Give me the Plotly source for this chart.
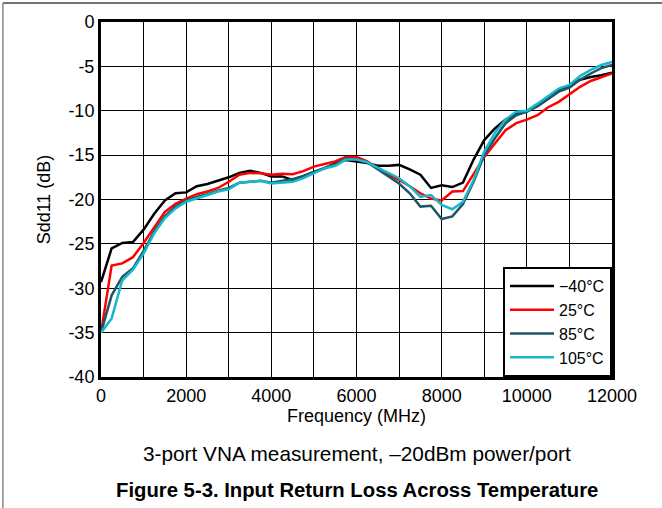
import plotly.graph_objects as go

# frequency points (MHz), 250 MHz step
freq = [i * 250 for i in range(49)]

sdd11_m40 = [-29.3, -25.5, -24.9, -24.8, -23.4, -21.6, -20.1, -19.3, -19.2, -18.5,
             -18.25, -17.9, -17.5, -17.0, -16.75, -17.0, -17.4, -17.4, -17.8, -17.4,
             -16.9, -16.5, -15.9, -15.55, -15.7, -15.9, -16.2, -16.2, -16.1, -16.6,
             -17.2, -18.7, -18.4, -18.6, -18.1, -15.5, -13.3, -12.0, -11.0, -10.4,
             -10.1, -9.35, -8.6, -7.7, -7.2, -6.5, -6.2, -6.0, -5.7]
sdd11_25 = [-35.0, -27.45, -27.2, -26.5, -24.9, -23.1, -21.4, -20.5, -19.9, -19.4,
            -19.1, -18.7, -18.0, -17.2, -17.0, -17.05, -17.2, -17.1, -17.15, -16.8,
            -16.3, -16.0, -15.7, -15.2, -15.2, -15.7, -16.5, -17.2, -17.8, -18.5,
            -19.3, -19.9, -20.1, -19.1, -19.05, -17.2, -15.2, -13.7, -12.2, -11.4,
            -11.0, -10.5, -9.6, -9.0, -8.2, -7.3, -6.65, -6.2, -5.8]
sdd11_85 = [-35.0, -30.8, -28.7, -27.75, -25.8, -23.6, -21.9, -20.8, -20.1, -19.7,
            -19.4, -19.0, -18.7, -18.1, -18.0, -17.9, -18.1, -17.9, -17.7, -17.35,
            -16.9, -16.5, -16.0, -15.4, -15.5, -15.8, -16.6, -17.4, -18.2, -19.3,
            -20.8, -20.7, -22.2, -21.9, -20.5, -18.0, -15.0, -13.1, -11.4, -10.5,
            -10.1, -9.5, -8.7, -7.85, -7.4, -6.5, -5.8, -5.2, -4.85]
sdd11_105 = [-35.0, -33.4, -29.1, -27.9, -26.1, -23.8, -22.1, -21.0, -20.25, -19.9,
             -19.5, -19.1, -18.85, -18.1, -18.0, -17.9, -18.2, -18.1, -18.0, -17.6,
             -17.05, -16.5, -16.2, -15.5, -15.5, -15.8, -16.4, -17.0, -17.6, -18.5,
             -19.7, -19.5, -20.6, -21.1, -20.25, -17.8, -14.6, -12.5, -11.0, -10.1,
             -10.0, -9.2, -8.4, -7.5, -7.1, -6.1, -5.4, -4.85, -4.5]

names = ["\u221240\u00b0C", "25\u00b0C", "85\u00b0C", "105\u00b0C"]
colors = ["#000000", "#ff0000", "#1d5766", "#17b8cc"]
series = [sdd11_m40, sdd11_25, sdd11_85, sdd11_105]

x_ticks = [0, 2000, 4000, 6000, 8000, 10000, 12000]
y_ticks = [0, -5, -10, -15, -20, -25, -30, -35, -40]

FONT = "Liberation Sans, Arial, sans-serif"

fig = go.Figure()
for nm, col, ys in zip(names, colors, series):
    fig.add_trace(go.Scatter(x=freq, y=ys, mode="lines", name=nm,
                             line=dict(color=col, width=2.5)))

fig.update_layout(
    width=662, height=508,
    margin=dict(l=101, r=50, t=22, b=131),
    paper_bgcolor="white", plot_bgcolor="white",
    font=dict(family=FONT, size=18, color="black"),
    showlegend=True,
    legend=dict(x=1, y=0, xanchor="right", yanchor="bottom",
                bgcolor="white", bordercolor="black", borderwidth=2,
                font=dict(size=16), tracegroupgap=0, itemwidth=44),
    xaxis=dict(range=[0, 12000], tickvals=x_ticks, ticktext=[str(v) for v in x_ticks],
               showgrid=True, gridcolor="black", gridwidth=1,
               showline=True, linecolor="black", linewidth=3, mirror=True,
               ticks="", zeroline=False, automargin=False,
               title=dict(text="Frequency (MHz)", font=dict(size=18), standoff=4),
               minor=dict(dtick=1000, showgrid=True, gridcolor="black", gridwidth=1)),
    yaxis=dict(range=[-40, 0], tickvals=y_ticks, ticktext=[str(v) for v in y_ticks],
               showgrid=True, gridcolor="black", gridwidth=1,
               showline=True, linecolor="black", linewidth=3, mirror=True,
               ticks="", zeroline=False, automargin=False,
               title=dict(text="Sdd11 (dB)", font=dict(size=18), standoff=14)),
    annotations=[
        dict(text="3-port VNA measurement, \u201320dBm power/port", xref="paper", yref="paper",
             x=0.5, y=-0.215, xanchor="center", yanchor="middle", showarrow=False,
             font=dict(size=20.8)),
        dict(text="<b>Figure 5-3. Input Return Loss Across Temperature</b>", xref="paper",
             yref="paper", x=0.5, y=-0.318, xanchor="center", yanchor="middle",
             showarrow=False, font=dict(size=20.3)),
    ],
    shapes=[
        dict(type="line", xref="paper", yref="paper", x0=-0.192, x1=1.1, y0=1.0535, y1=1.0535,
             line=dict(color="#444444", width=1.5)),
        dict(type="line", xref="paper", yref="paper", x0=-0.192, x1=-0.192, y0=1.0535, y1=-0.4,
             line=dict(color="#888888", width=1.5)),
    ],
)

# page body has a default 8px margin; drop it so the figure sits at the window corner
fig.write_html("out.html", config={"displayModeBar": False},
               post_script="document.body.style.margin='0';")
